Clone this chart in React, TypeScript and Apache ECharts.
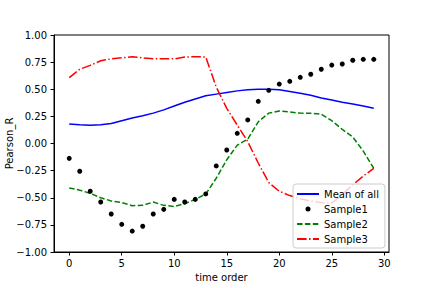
import React, { useEffect, useRef } from "react";
import * as echarts from "echarts";

const timeOrder = [0, 1, 2, 3, 4, 5, 6, 7, 8, 9, 10, 11, 12, 13, 14, 15, 16, 17, 18, 19, 20, 21, 22, 23, 24, 25, 26, 27, 28, 29];
const meanOfAll = [0.18, 0.172, 0.168, 0.172, 0.184, 0.21, 0.235, 0.255, 0.28, 0.31, 0.345, 0.38, 0.41, 0.44, 0.455, 0.47, 0.485, 0.495, 0.5, 0.5, 0.495, 0.48, 0.463, 0.445, 0.42, 0.4, 0.38, 0.365, 0.345, 0.325];
const sample1 = [-0.137, -0.256, -0.44, -0.539, -0.65, -0.745, -0.807, -0.763, -0.65, -0.607, -0.515, -0.539, -0.515, -0.465, -0.207, -0.06, 0.094, 0.217, 0.389, 0.49, 0.548, 0.573, 0.61, 0.638, 0.684, 0.723, 0.733, 0.767, 0.776, 0.776];
const sample2 = [-0.41, -0.43, -0.46, -0.5, -0.53, -0.545, -0.573, -0.57, -0.54, -0.57, -0.58, -0.555, -0.515, -0.465, -0.32, -0.15, -0.015, 0.04, 0.2, 0.28, 0.3, 0.29, 0.28, 0.278, 0.27, 0.21, 0.13, 0.06, -0.07, -0.23];
const sample3 = [0.607, 0.684, 0.72, 0.763, 0.78, 0.79, 0.8, 0.79, 0.78, 0.78, 0.78, 0.797, 0.8, 0.797, 0.52, 0.324, 0.17, 0.017, -0.18, -0.36, -0.44, -0.48, -0.51, -0.53, -0.545, -0.55, -0.47, -0.38, -0.3, -0.23];
const xTicks = [0, 5, 10, 15, 20, 25, 30];
const seriesNames = ["Mean of all", "Sample1", "Sample2", "Sample3"];

const FONT = "DejaVu Sans";

export default function App() {
  const ref = useRef<HTMLDivElement>(null);
  useEffect(() => {
    if (!ref.current) return;
    const chart = echarts.init(ref.current, undefined, { renderer: "svg" });
    const pair = (ys: number[]) => timeOrder.map((x, i) => [x, ys[i]]);
    const dotIcon =
      "path://M0 0 M22 0 M22 10 M0 10 M8.5 5 a2.5 2.5 0 1 0 5 0 a2.5 2.5 0 1 0 -5 0 Z";
    const hiddenSymbol = { opacity: 0 };
    chart.setOption({
      animation: false,
      backgroundColor: "#fff",
      textStyle: { fontFamily: FONT },
      grid: {
        left: 54,
        right: 43,
        top: 35,
        bottom: 36,
        containLabel: false,
        outerBoundsMode: "none",
        show: true,
        borderColor: "#000",
        borderWidth: 1,
        backgroundColor: "transparent",
      },
      xAxis: {
        type: "value",
        min: -1.45,
        max: 30.45,
        name: "time order",
        nameLocation: "middle",
        nameGap: 20,
        nameMoveOverlap: false,
        nameTextStyle: { fontSize: 10, color: "#000", fontFamily: FONT },
        axisLine: { show: true, onZero: false, lineStyle: { color: "#000", width: 1 } },
        axisTick: { show: true, length: 3.5, customValues: xTicks, lineStyle: { color: "#000" } },
        axisLabel: {
          customValues: xTicks,
          fontSize: 10,
          color: "#000",
          margin: 6,
          fontFamily: FONT,
        },
        splitLine: { show: false },
      },
      yAxis: {
        type: "value",
        min: -1,
        max: 1,
        interval: 0.25,
        name: "Pearson_R",
        nameLocation: "middle",
        nameGap: 40,
        nameMoveOverlap: false,
        nameTextStyle: { fontSize: 10, color: "#000", fontFamily: FONT },
        axisLine: { show: true, onZero: false, lineStyle: { color: "#000", width: 1 } },
        axisTick: { show: true, length: 3.5, lineStyle: { color: "#000" } },
        axisLabel: {
          fontSize: 10,
          color: "#000",
          margin: 7,
          fontFamily: FONT,
          formatter: (v: number) => (v < 0 ? "\u2212" : "") + Math.abs(v).toFixed(2),
        },
        splitLine: { show: false },
      },
      legend: {
        orient: "vertical",
        left: 293,
        top: 184,
        padding: [5, 6, 4, 3],
        itemWidth: 22,
        itemHeight: 10,
        itemGap: 5,
        borderColor: "#ccc",
        borderWidth: 1,
        borderRadius: 3,
        backgroundColor: "rgba(255,255,255,0.8)",
        textStyle: { fontSize: 10, color: "#000", fontFamily: FONT },
        data: [
          { name: seriesNames[0], itemStyle: hiddenSymbol },
          { name: seriesNames[1], icon: dotIcon },
          { name: seriesNames[2], itemStyle: hiddenSymbol },
          { name: seriesNames[3], itemStyle: hiddenSymbol },
        ],
      },
      series: [
        {
          name: seriesNames[0],
          type: "line",
          data: pair(meanOfAll),
          symbol: "none",
          lineStyle: { color: "#0000ff", width: 1.5 },
          itemStyle: { color: "#0000ff" },
          z: 2,
        },
        {
          name: seriesNames[1],
          type: "scatter",
          data: pair(sample1),
          symbol: "circle",
          symbolSize: 5,
          itemStyle: { color: "#000", opacity: 1 },
          z: 3,
        },
        {
          name: seriesNames[2],
          type: "line",
          data: pair(sample2),
          symbol: "none",
          lineStyle: { color: "#008000", width: 1.5, type: [5.5, 2.4] },
          itemStyle: { color: "#008000" },
          z: 2,
        },
        {
          name: seriesNames[3],
          type: "line",
          data: pair(sample3),
          symbol: "none",
          lineStyle: { color: "#ff0000", width: 1.5, type: [9.6, 2.4, 1.5, 2.4] },
          itemStyle: { color: "#ff0000" },
          z: 2,
        },
      ],
    });
    return () => chart.dispose();
  }, []);
  return (
    <div
      ref={ref}
      style={{ position: "fixed", left: 0, top: 0, width: 432, height: 288 }}
    />
  );
}
